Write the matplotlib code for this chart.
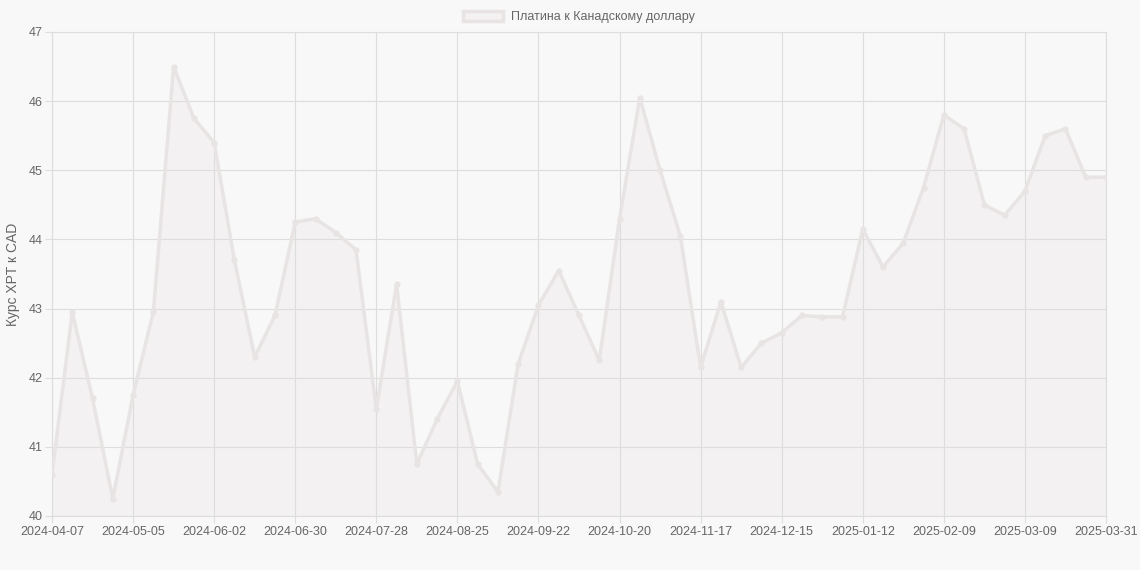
import numpy as np
import pandas as pd
import matplotlib.pyplot as plt
from matplotlib.patches import Patch

plt.rcParams['font.family'] = ['Liberation Sans', 'DejaVu Sans']

# weekly dates plus the final day
dates = [d.strftime("%Y-%m-%d") for d in pd.date_range("2024-04-07", "2025-03-30", freq="7D")]
dates.append("2025-03-31")

values = [40.6, 42.95, 41.7, 40.25, 41.75, 42.95, 46.5, 45.75, 45.4, 43.7,
          42.3, 42.9, 44.25, 44.3, 44.1, 43.85, 41.55, 43.35, 40.75, 41.4,
          41.95, 40.75, 40.35, 42.2, 43.05, 43.55, 42.9, 42.25, 44.3, 46.05,
          45.0, 44.05, 42.15, 43.1, 42.15, 42.5, 42.65, 42.9, 42.88, 42.88,
          44.15, 43.6, 43.95, 44.75, 45.8, 45.6, 44.5, 44.35, 44.7, 45.5,
          45.6, 44.9, 44.9]

label = "Платина к Канадскому доллару"
ylabel = "Курс XPT к CAD"

bg = "#f8f8f8"
line_col = "#e8e4e4"
grid_col = "#dddddd"
text_col = "#666666"

fig = plt.figure(figsize=(11.4, 5.7), dpi=100, facecolor=bg)
ax = fig.add_axes([52 / 1140, 54 / 570, 1054 / 1140, 484 / 570])
ax.set_facecolor(bg)

x = np.arange(len(dates))
ax.fill_between(x, values, 40, color="#f4f1f2", lw=0, zorder=1)
ax.plot(x, values, color=line_col, lw=2.5, marker="o", ms=3.5,
        markerfacecolor=line_col, markeredgecolor=line_col, zorder=3)

ax.set_xlim(0, len(dates) - 1)
ax.set_ylim(40, 47)

ticks = list(range(0, len(dates) - 1, 4)) + [len(dates) - 1]
ax.set_xticks(ticks)
ax.set_xticklabels([dates[i] for i in ticks])
ax.set_yticks(range(40, 48))

ax.grid(True, color=grid_col, lw=0.8, zorder=0)
for s in ax.spines.values():
    s.set_color(grid_col)
    s.set_linewidth(0.8)
ax.tick_params(colors=text_col, labelsize=9, length=5, width=0.8)
ax.tick_params(axis="x", color=grid_col, pad=2)
ax.tick_params(axis="y", color=grid_col, pad=2)

ax.set_ylabel(ylabel, color=text_col, fontsize=10, labelpad=6)

handle = Patch(facecolor="#f4f1f2", edgecolor=line_col, linewidth=2.5)
ax.legend([handle], [label], loc="lower center", bbox_to_anchor=(0.5, 1.0),
          frameon=False, fontsize=9, handlelength=3.2, handleheight=0.9,
          labelcolor=text_col, borderaxespad=0.3, handletextpad=0.6)

fig.savefig("out.png", dpi=100, facecolor=bg)
